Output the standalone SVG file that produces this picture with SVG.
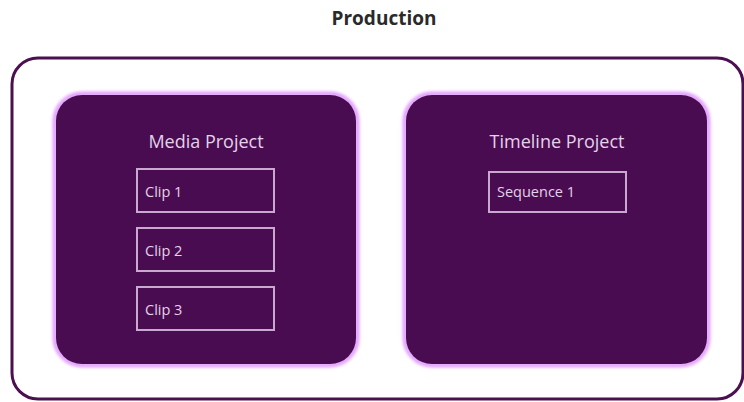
<svg xmlns="http://www.w3.org/2000/svg" width="744" height="402" viewBox="0 0 744 402">
<style>
.title{font-family:"Open Sans","Liberation Sans",sans-serif;font-size:19px;font-weight:bold;fill:#2a2a2a;text-anchor:middle}
.ptitle{font-family:"Open Sans","Liberation Sans",sans-serif;font-size:18px;fill:#e3d2ea;text-anchor:middle}
.item{font-family:"Open Sans","Liberation Sans",sans-serif;font-size:14.5px;fill:#e3d2ea}
.outer{fill:#ffffff;stroke:#4b1050;stroke-width:3}
.panel{fill:#4a0c50}
.glow{fill:none;stroke:#e3a2ff;stroke-width:5}
.box{fill:none;stroke:#c9a9cf;stroke-width:2}
</style>
<defs>
<filter id="blur" x="-10%" y="-10%" width="120%" height="120%"><feGaussianBlur stdDeviation="1.6"/></filter>
</defs>
<rect width="744" height="402" fill="#ffffff"/>
<text class="title" x="384" y="25">Production</text>
<g id="production">
<rect class="outer" x="12" y="58" width="731" height="341" rx="26" ry="26"/>
</g>
<g id="media-project">
<rect class="glow" x="55" y="94" width="302" height="271" rx="27" ry="27" filter="url(#blur)"/>
<rect class="panel" x="56" y="95" width="300" height="269" rx="26" ry="26"/>
<text class="ptitle" x="206" y="148">Media Project</text>
</g>
<g id="clip1">
<rect class="box" x="137" y="169" width="137" height="43"/>
<text class="item" x="145" y="197">Clip 1</text>
</g>
<g id="clip2">
<rect class="box" x="137" y="228" width="137" height="43"/>
<text class="item" x="145" y="256">Clip 2</text>
</g>
<g id="clip3">
<rect class="box" x="137" y="287" width="137" height="43"/>
<text class="item" x="145" y="315">Clip 3</text>
</g>
<g id="timeline-project">
<rect class="glow" x="405" y="94" width="303" height="271" rx="27" ry="27" filter="url(#blur)"/>
<rect class="panel" x="406" y="95" width="301" height="269" rx="26" ry="26"/>
<text class="ptitle" x="557" y="148">Timeline Project</text>
</g>
<g id="sequence1">
<rect class="box" x="489" y="172" width="137" height="40"/>
<text class="item" x="497" y="197">Sequence 1</text>
</g>
<g id="connectors"></g>
</svg>
